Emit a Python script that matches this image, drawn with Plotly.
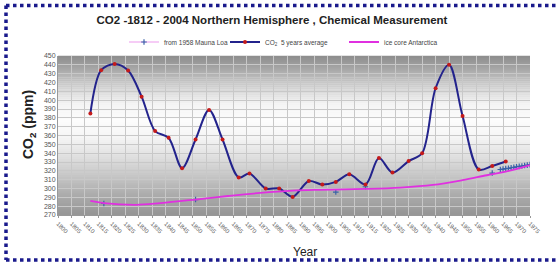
import plotly.graph_objects as go

# ---------------- data ----------------
avg_years = [1812, 1816, 1821, 1826, 1831, 1836, 1841, 1846, 1851, 1856, 1861,
             1867, 1871, 1877, 1882, 1887, 1893, 1898, 1903, 1908, 1914, 1919,
             1924, 1930, 1935, 1940, 1945, 1950, 1956, 1961, 1966]
avg_co2 = [385, 434, 441, 433.5, 404, 365, 357.5, 323, 355.5, 389, 355.5,
           312.5, 317, 300, 300, 290.5, 308.5, 304.5, 307.5, 316, 304.5, 334.5,
           318, 331, 340, 413.5, 440, 382, 321.5, 325.5, 330.5]

ice_years = [1812, 1817, 1829, 1838, 1851, 1863, 1875, 1887, 1897, 1914, 1927,
             1939, 1950, 1959, 1966, 1975]
ice_co2 = [286, 283.5, 281.5, 283.5, 287.5, 291.5, 295, 297.5, 298.5, 299.5,
           301, 304, 309.5, 315, 319, 326.5]

ml_years = [1817, 1851, 1903, 1914, 1961, 1964, 1965, 1966, 1967, 1968, 1969,
            1970, 1971, 1972, 1973, 1974, 1975]
ml_co2 = [283, 287.5, 296, 302, 317.5, 321.5, 322, 322.5, 322.8, 323.5, 324,
          324.6, 325, 325.5, 326, 326.5, 327]

x_ticks = [1800, 1805, 1810, 1815, 1820, 1825, 1830, 1835, 1840, 1845, 1850,
           1855, 1860, 1865, 1870, 1875, 1880, 1885, 1890, 1895, 1900, 1905,
           1910, 1915, 1920, 1925, 1930, 1935, 1940, 1945, 1950, 1955, 1960,
           1965, 1970, 1975]
y_ticks = [270, 280, 290, 300, 310, 320, 330, 340, 350, 360, 370, 380, 390,
           400, 410, 420, 430, 440, 450]

# ---------------- layout geometry (pixels) ----------------
W, H = 559, 264
PL, PR, PT, PB = 58, 530, 56, 215
pw, ph = PR - PL, PB - PT
FONT = "Liberation Sans, Arial, sans-serif"


def px_x(p):
    return (p - PL) / pw


def px_y(p):
    return (PB - p) / ph


# Mauna Loa: no connecting line across big gaps
mlx, mly = [], []
for i, (yr, v) in enumerate(zip(ml_years, ml_co2)):
    if i > 0 and yr - ml_years[i - 1] > 2:
        mlx.append(None)
        mly.append(None)
    mlx.append(yr)
    mly.append(v)

fig = go.Figure()
fig.add_trace(go.Scatter(
    x=mlx, y=mly, mode="lines+markers", name="from 1958 Mauna Loa",
    line=dict(color="#ee9aee", width=1.2),
    marker=dict(symbol="cross-thin", size=4, line=dict(color="#3a62a8", width=1.2)),
    legendwidth=56,
))
fig.add_trace(go.Scatter(
    x=avg_years, y=avg_co2, mode="lines+markers",
    name="CO<sub>2</sub>  5 years average",
    line=dict(color="#23238c", width=2, shape="spline", smoothing=0.9),
    marker=dict(symbol="circle", size=4, color="#c41a1a"),
    legendwidth=74,
))
fig.add_trace(go.Scatter(
    x=ice_years, y=ice_co2, mode="lines", name="ice core Antarctica",
    line=dict(color="#e030e0", width=1.8, shape="spline", smoothing=1),
    legendwidth=60,
))

# gradient plot background (grey - white - grey)
stops = [(56, 140), (70, 168), (90, 215), (105, 244), (120, 252), (135, 246),
         (155, 226), (175, 200), (195, 172), (215, 150)]


def grey_at(p):
    for (a, ga), (b, gb) in zip(stops[:-1], stops[1:]):
        if a <= p <= b:
            t = (p - a) / (b - a)
            return ga + (gb - ga) * t
    return stops[-1][1]


shapes = []
N = 80
for i in range(N):
    p0 = PT + ph * i / N
    p1 = PT + ph * (i + 1) / N
    g = int(round(grey_at((p0 + p1) / 2)))
    shapes.append(dict(type="rect", xref="x domain", yref="y domain",
                       x0=0, x1=1, y0=px_y(p1), y1=px_y(p0) + 0.002,
                       fillcolor=f"rgb({g},{g},{g})", line=dict(width=0),
                       layer="below"))

# dotted page border (top, left, bottom)
border = dict(color="#1a1a8c", width=3.5, dash="3.5px,3.5px")
for (x0, y0, x1, y1) in [(6, 5.5, 570, 5.5), (6, 5.5, 6, 260), (6, 260, 570, 260)]:
    shapes.append(dict(type="line", xref="paper", yref="paper",
                       x0=px_x(x0), y0=px_y(y0), x1=px_x(x1), y1=px_y(y1),
                       line=border, layer="above"))

fig.update_layout(
    width=W, height=H,
    margin=dict(l=PL, r=W - PR, t=PT, b=H - PB, autoexpand=False),
    paper_bgcolor="white", plot_bgcolor="white",
    font=dict(family=FONT, color="#333"),
    shapes=shapes,
    showlegend=True,
    legend=dict(orientation="h", xref="container", yref="container",
                x=124 / W, xanchor="left",
                y=1 - 42 / H, yanchor="middle", font=dict(size=6.5, color="#444"),
                bgcolor="rgba(0,0,0,0)", itemwidth=30, tracegroupgap=0),
    title=dict(text="<b>CO2 -1812 - 2004 Northern Hemisphere , Chemical Measurement</b>",
               x=272 / W, xref="container", xanchor="center",
               y=1 - 20 / H, yanchor="middle",
               font=dict(size=11.5, color="#222", family=FONT)),
    xaxis=dict(range=[1800, 1975], tickvals=x_ticks, ticktext=[str(v) for v in x_ticks],
               tickangle=45, tickfont=dict(size=6, color="#555"), automargin=False,
               showgrid=True, gridcolor="#c8c8c8", gridwidth=1,
               zeroline=False, showline=True, linecolor="#999", linewidth=1,
               ticks="outside", ticklen=2, tickcolor="#999"),
    yaxis=dict(range=[270, 450], tickvals=y_ticks, automargin=False,
               tickfont=dict(size=7, color="#555"),
               showgrid=True, gridcolor="#c8c8c8", gridwidth=1,
               zeroline=False, showline=True, linecolor="#999", linewidth=1,
               ticks="", ticklen=0),
    annotations=[
        dict(text="<b>CO<sub>2</sub> (ppm)</b>", xref="paper", yref="paper",
             x=px_x(29), y=px_y(125), textangle=-90, showarrow=False,
             font=dict(size=14, color="#222", family=FONT),
             xanchor="center", yanchor="middle"),
        dict(text="Year", xref="paper", yref="paper",
             x=px_x(305), y=px_y(252), showarrow=False,
             font=dict(size=12, color="#222", family=FONT),
             xanchor="center", yanchor="middle"),
    ],
)

fig.write_html("out.html", config={"displayModeBar": False},
               post_script="document.body.style.margin='0px';document.body.style.overflow='hidden';")
